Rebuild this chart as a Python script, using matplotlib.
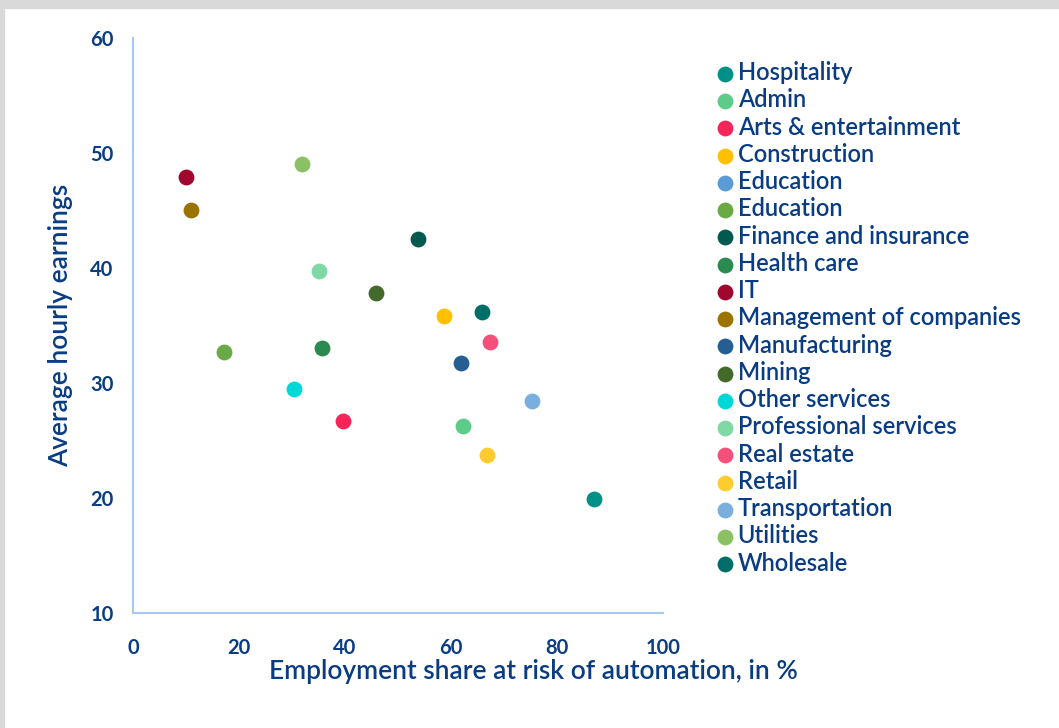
import numpy as np
import matplotlib
matplotlib.use("Agg")
import matplotlib.pyplot as plt
from matplotlib.patches import Rectangle

# sectors, in legend order
sectors = ["Hospitality", "Admin", "Arts & entertainment", "Construction",
           "Education", "Education", "Finance and insurance", "Health care",
           "IT", "Management of companies", "Manufacturing", "Mining",
           "Other services", "Professional services", "Real estate", "Retail",
           "Transportation", "Utilities", "Wholesale"]
risk = [87.0, 62.3, 39.6, 58.7, np.nan, 17.2, 53.8, 35.7, 10.0, 10.9,
        61.9, 45.8, 30.4, 35.1, 67.4, 66.8, 75.3, 31.9, 65.8]
earnings = [19.9, 26.3, 26.7, 35.8, np.nan, 32.7, 42.5, 33.0, 47.9, 45.0,
            31.7, 37.8, 29.5, 39.7, 33.6, 23.7, 28.4, 49.0, 36.2]
colors = ["#009088", "#5ccc88", "#f5255a", "#ffc000", "#5b9bd5", "#6aaa46",
          "#005a50", "#2a8a50", "#a0062e", "#9a7300", "#265e92", "#426a2a",
          "#00d8d8", "#80d8a4", "#f5507a", "#ffcc30", "#7aaedd", "#8cc064",
          "#006e68"]

navy = "#0a3c82"
spine = "#a8c8f0"
plt.rcParams["font.family"] = ["Lato", "DejaVu Sans"]

fig = plt.figure(figsize=(10.59, 7.28), dpi=100)
ax = fig.add_axes([0.1256, 0.158, 0.5005, 0.7898])

for name, x, y, c in zip(sectors, risk, earnings, colors):
    ax.scatter([x], [y], s=130, color=c, label=name, linewidths=0, zorder=3)

ax.set_xlim(0, 100)
ax.set_ylim(10, 60)
ax.set_xticks([0, 20, 40, 60, 80, 100])
ax.set_yticks([10, 20, 30, 40, 50, 60])
ax.tick_params(length=0, labelsize=14.5, labelcolor=navy)
ax.tick_params(axis="x", pad=18)
ax.tick_params(axis="y", pad=14)
for lab in ax.get_xticklabels() + ax.get_yticklabels():
    lab.set_fontweight("bold")

for s in ["top", "right"]:
    ax.spines[s].set_visible(False)
for s in ["left", "bottom"]:
    ax.spines[s].set_color(spine)
    ax.spines[s].set_linewidth(1.5)

ax.set_xlabel("Employment share at risk of automation, in %", fontsize=19,
              color=navy, fontweight="semibold")
ax.xaxis.set_label_coords(0.755, -0.08)
ax.set_ylabel("Average hourly earnings", fontsize=19, color=navy,
              fontweight="semibold")
ax.yaxis.set_label_coords(-0.113, 0.5)

leg = ax.legend(loc="upper left", bbox_to_anchor=(1.094, 0.96), frameon=False,
                fontsize=17, labelspacing=0.18, handletextpad=0.05,
                handlelength=1.0, borderaxespad=0, borderpad=0)
for t in leg.get_texts():
    t.set_color(navy)
    t.set_fontweight("semibold")

# grey frame along top and left edge
fig.patches.append(Rectangle((0, 1 - 8 / 728), 1, 8 / 728, transform=fig.transFigure,
                             color="#d9d9d9", zorder=0))
fig.patches.append(Rectangle((0, 0), 4 / 1059, 1, transform=fig.transFigure,
                             color="#d9d9d9", zorder=0))

fig.savefig("out.png", dpi=100)
